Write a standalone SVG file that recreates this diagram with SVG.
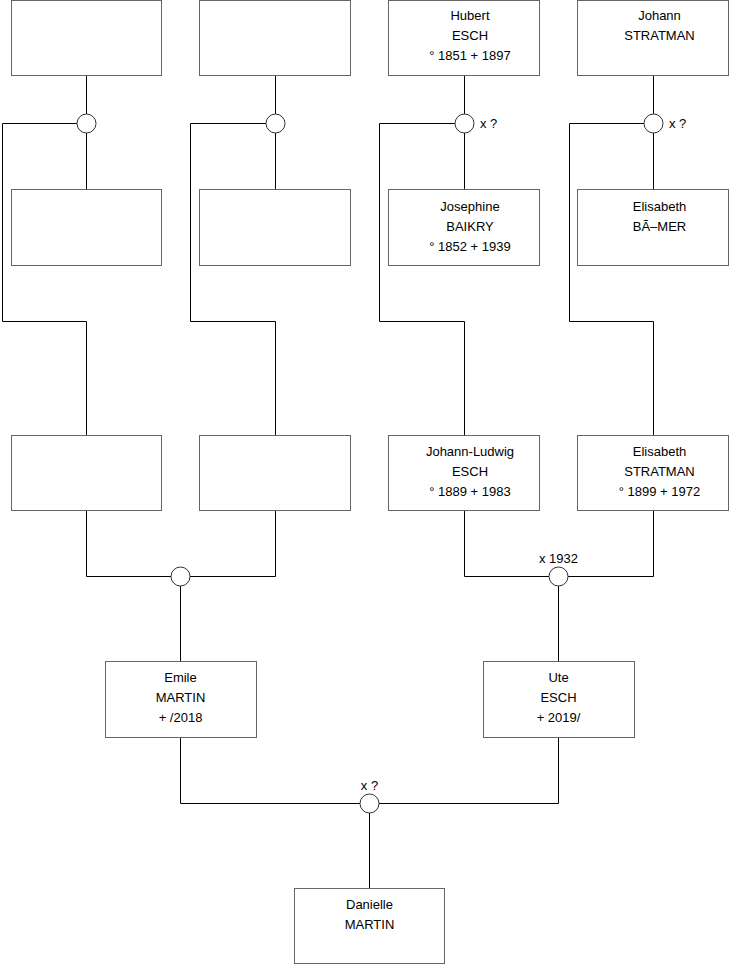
<svg xmlns="http://www.w3.org/2000/svg" width="740" height="975" viewBox="0 0 740 975">
<style>
.box{fill:#fff;stroke:#666;stroke-width:1}
.ln{fill:none;stroke:#000;stroke-width:1}
.ring{fill:#fff;stroke:#333;stroke-width:1}
text{font-family:"Liberation Sans",Arial,sans-serif;font-size:13px;fill:#000}
.c{text-anchor:middle}
</style>
<rect width="740" height="975" fill="#fff"/>
<g id="connectors">
<path class="ln" d="M86.5 75.5V190M86.5 123.5H2.5V321.5H86.5V435.5"/>
<path class="ln" d="M275.5 75.5V190M275.5 123.5H190.5V321.5H275.5V435.5"/>
<path class="ln" d="M464.5 75.5V190M464.5 123.5H379.5V321.5H464.5V435.5"/>
<path class="ln" d="M653.5 75.5V190M653.5 123.5H569.5V321.5H653.5V435.5"/>
<path class="ln" d="M86.5 510.5V576.5H275.5V510.5M180.5 576.5V661.5"/>
<path class="ln" d="M464.5 510.5V576.5H653.5V510.5M558.5 576.5V661.5"/>
<path class="ln" d="M180.5 737.5V803.5H558.5V737.5M369.5 803.5V888.5"/>
<circle class="ring" cx="86.5" cy="123.5" r="9.5"/>
<circle class="ring" cx="275.5" cy="123.5" r="9.5"/>
<circle class="ring" cx="464.5" cy="123.5" r="9.5"/>
<circle class="ring" cx="653.5" cy="123.5" r="9.5"/>
<circle class="ring" cx="180.5" cy="576.5" r="9.5"/>
<circle class="ring" cx="558.5" cy="576.5" r="9.5"/>
<circle class="ring" cx="369.5" cy="803.5" r="9.5"/>
<text x="480" y="128">x ?</text>
<text x="669" y="128">x ?</text>
<text class="c" x="558.5" y="563">x 1932</text>
<text class="c" x="369.5" y="790">x ?</text>
</g>
<g id="n1"><rect class="box" x="11.5" y="0.5" width="150" height="75"/></g>
<g id="n2"><rect class="box" x="199.5" y="0.5" width="151" height="75"/></g>
<g id="n3"><rect class="box" x="388.5" y="0.5" width="151" height="75"/>
<text class="c" x="470" y="20">Hubert</text><text class="c" x="470" y="40">ESCH</text><text class="c" x="470" y="60">° 1851 + 1897</text></g>
<g id="n4"><rect class="box" x="577.5" y="0.5" width="151" height="75"/>
<text class="c" x="659.5" y="20">Johann</text><text class="c" x="659.5" y="40">STRATMAN</text></g>
<g id="n5"><rect class="box" x="11.5" y="189.5" width="150" height="76"/></g>
<g id="n6"><rect class="box" x="199.5" y="189.5" width="151" height="76"/></g>
<g id="n7"><rect class="box" x="388.5" y="189.5" width="151" height="76"/>
<text class="c" x="470" y="210.5">Josephine</text><text class="c" x="470" y="230.5">BAIKRY</text><text class="c" x="470" y="250.5">° 1852 + 1939</text></g>
<g id="n8"><rect class="box" x="577.5" y="189.5" width="151" height="76"/>
<text class="c" x="659.5" y="210.5">Elisabeth</text><text class="c" x="659.5" y="230.5">BÃ–MER</text></g>
<g id="n9"><rect class="box" x="11.5" y="435.5" width="150" height="75"/></g>
<g id="n10"><rect class="box" x="199.5" y="435.5" width="151" height="75"/></g>
<g id="n11"><rect class="box" x="388.5" y="435.5" width="151" height="75"/>
<text class="c" x="470" y="455.5">Johann-Ludwig</text><text class="c" x="470" y="475.5">ESCH</text><text class="c" x="470" y="495.5">° 1889 + 1983</text></g>
<g id="n12"><rect class="box" x="577.5" y="435.5" width="151" height="75"/>
<text class="c" x="659.5" y="455.5">Elisabeth</text><text class="c" x="659.5" y="475.5">STRATMAN</text><text class="c" x="659.5" y="495.5">° 1899 + 1972</text></g>
<g id="n13"><rect class="box" x="105.5" y="661.5" width="151" height="76"/>
<text class="c" x="180.5" y="682">Emile</text><text class="c" x="180.5" y="702">MARTIN</text><text class="c" x="180.5" y="722">+ /2018</text></g>
<g id="n14"><rect class="box" x="483.5" y="661.5" width="151" height="76"/>
<text class="c" x="558.5" y="682">Ute</text><text class="c" x="558.5" y="702">ESCH</text><text class="c" x="558.5" y="722">+ 2019/</text></g>
<g id="n15"><rect class="box" x="294.5" y="888.5" width="150" height="75"/>
<text class="c" x="369.5" y="909">Danielle</text><text class="c" x="369.5" y="929">MARTIN</text></g>
</svg>
